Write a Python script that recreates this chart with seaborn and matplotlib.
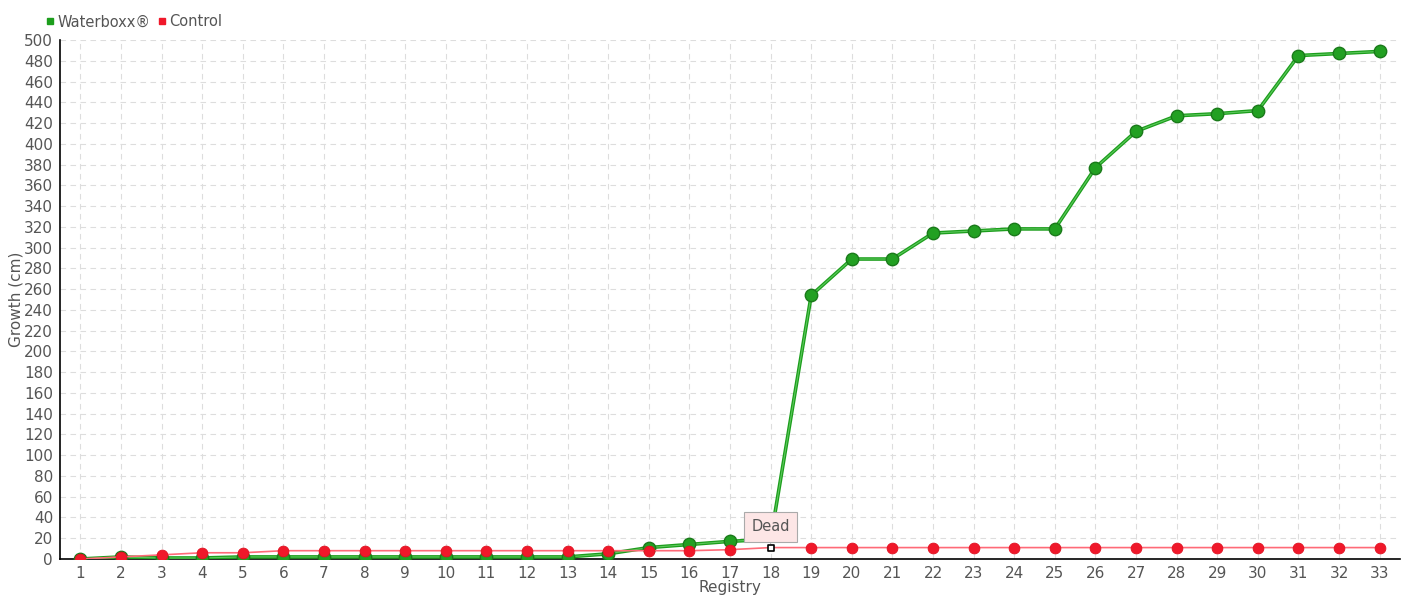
import matplotlib
matplotlib.use("Agg")
import matplotlib.pyplot as plt
import seaborn as sns
import pandas as pd
from matplotlib.lines import Line2D

registry = list(range(1, 34))
waterboxx = [0, 2, 1, 1, 2, 2, 2, 2, 2, 2, 2, 2, 2, 5, 11, 14, 17, 19,
             254, 289, 289, 314, 316, 318, 318, 377, 412, 427, 429, 432, 485, 487, 489]
control = [0, 2, 4, 6, 6, 8, 8, 8, 8, 8, 8, 8, 8, 8, 8, 8, 9, 11,
           11, 11, 11, 11, 11, 11, 11, 11, 11, 11, 11, 11, 11, 11, 11]
series_names = ["Waterboxx®", "Control"]
dead_index = 18
dead_label = "Dead"

df = pd.DataFrame({
    "Registry": registry * 2,
    "Growth": waterboxx + control,
    "Series": [series_names[0]] * len(registry) + [series_names[1]] * len(registry),
})

sns.set_theme(style="white")
plt.rcParams['font.family'] = ['DejaVu Sans']

fig = plt.figure(figsize=(14.2, 6), dpi=100)
ax = fig.add_axes([60 / 1420, 1 - 559 / 600, 1340 / 1420, 519 / 600])

green = "#1c9e1c"
red = "#f0182a"
txt = "#555555"

wdf = df[df.Series == series_names[0]]
cdf = df[df.Series == series_names[1]]

sns.lineplot(data=wdf, x="Registry", y="Growth", ax=ax, color=green, lw=2.6,
             zorder=3, legend=False)
sns.lineplot(data=wdf, x="Registry", y="Growth", ax=ax, color="#5cc85c", lw=0.8,
             zorder=3.1, legend=False)
sns.scatterplot(data=wdf[wdf.Registry != dead_index], x="Registry", y="Growth", ax=ax,
                color="#22a022", s=80, edgecolor="#1a7a1a", linewidth=1, zorder=3.2,
                legend=False)
sns.lineplot(data=cdf, x="Registry", y="Growth", ax=ax, color="#ff6a78", lw=1.2,
             zorder=4, legend=False)
sns.scatterplot(data=cdf[cdf.Registry != dead_index], x="Registry", y="Growth", ax=ax,
                color=red, s=60, edgecolor="#e01020", linewidth=0.6, zorder=5,
                legend=False)

# dead marker
dy = cdf[cdf.Registry == dead_index].Growth.values[0]
ax.scatter([dead_index], [dy], marker="s", s=22, facecolor="white",
           edgecolor="black", linewidth=1.2, zorder=6)
ax.annotate(dead_label, xy=(dead_index, dy), xytext=(0, 15), textcoords="offset points",
            ha="center", va="center", fontsize=10.5, color=txt,
            bbox=dict(boxstyle="square,pad=0.5", fc="#fde6e6", ec="#aaaaaa", lw=0.8),
            arrowprops=dict(arrowstyle="-", color="#aaaaaa", lw=0.8, shrinkA=0, shrinkB=3),
            zorder=7)

ax.set_xlim(0.5, 33.5)
ax.set_ylim(0, 500)
ax.set_xticks(registry)
ax.set_yticks(range(0, 501, 20))
ax.tick_params(axis="both", labelsize=11, labelcolor=txt, color="black", length=4,
               width=1, direction="out", pad=1)
ax.grid(True, color="#dddddd", linestyle=(0, (5, 4)), lw=0.8)
for s in ["top", "right"]:
    ax.spines[s].set_visible(False)
for s in ["left", "bottom"]:
    ax.spines[s].set_color("black")
    ax.spines[s].set_linewidth(1.2)
ax.set_xlabel("Registry", fontsize=11, color=txt, labelpad=-1)
ax.set_ylabel("Growth (cm)", fontsize=11, color=txt)
ax.yaxis.set_label_coords(-36 / 1340, 0.5)

# legend
handles = [Line2D([], [], marker="s", ls="none", color=green, markersize=4.5),
           Line2D([], [], marker="s", ls="none", color=red, markersize=4.5)]
fig.legend(handles, series_names, loc="center left",
           bbox_to_anchor=(46 / 1420, 1 - 22 / 600), ncol=2, frameon=False,
           handlelength=0.5, handletextpad=0.3, columnspacing=0.5, borderaxespad=0,
           borderpad=0, fontsize=10.5, labelcolor=txt)

fig.savefig("out.png", dpi=100)
